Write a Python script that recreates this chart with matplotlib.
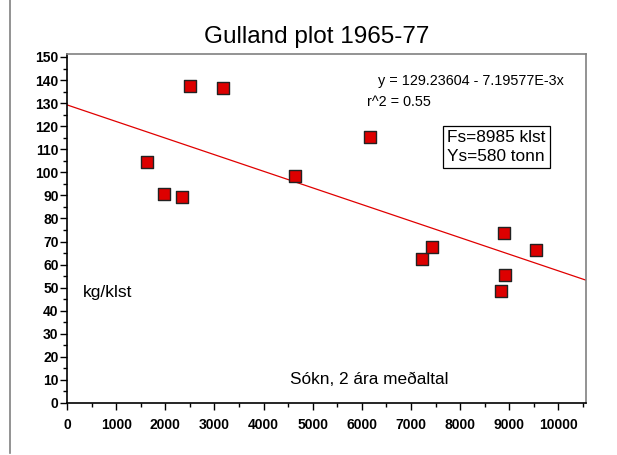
import numpy as np
import matplotlib
matplotlib.use("Agg")
import matplotlib.pyplot as plt
from matplotlib.ticker import MultipleLocator
from matplotlib.lines import Line2D

plt.rcParams['font.family'] = ['Liberation Sans', 'DejaVu Sans']

# effort (2 year mean) and catch per unit effort
sokn = [1620, 1970, 2340, 2500, 3180, 4630, 6160, 7220, 7420, 8840, 8900, 8920, 9540]
cpue = [104.5, 90.5, 89.5, 137.5, 136.5, 98.5, 115.5, 62.5, 67.5, 48.5, 73.5, 55.5, 66.5]

intercept = 129.23604
slope = -7.19577e-3
x_max = 10560
y_max = 151.3

fig = plt.figure(figsize=(6.17, 4.55), dpi=100)
ax = fig.add_axes([67 / 617, 1 - 403 / 455, (586 - 67) / 617, (403 - 54) / 455])

# left frame line of the page
fig.add_artist(Line2D([10 / 617, 10 / 617], [0.004, 1], color='#808080', lw=1.2,
                      transform=fig.transFigure))

xl = np.array([0, x_max])
ax.plot(xl, intercept + slope * xl, color='#e00000', lw=0.9, zorder=2)
ax.scatter(sokn, cpue, marker='s', s=72, facecolor='#dd0000', edgecolor='#222222',
           linewidth=1.0, zorder=3)

ax.set_xlim(0, x_max)
ax.set_ylim(0, y_max)
ax.xaxis.set_major_locator(MultipleLocator(1000))
ax.xaxis.set_minor_locator(MultipleLocator(500))
ax.yaxis.set_major_locator(MultipleLocator(10))
ax.yaxis.set_minor_locator(MultipleLocator(5))
ax.tick_params(which='major', direction='out', length=5, width=1, color='black',
               labelsize=10)
ax.tick_params(which='minor', direction='out', length=3, width=1, color='black')
ax.tick_params(axis='x', pad=6)
ax.tick_params(axis='y', pad=1)
for lab in ax.get_xticklabels() + ax.get_yticklabels():
    lab.set_fontweight('bold')

ax.spines['left'].set_color('black')
ax.spines['bottom'].set_color('black')
ax.spines['top'].set_color('#808080')
ax.spines['right'].set_color('#808080')
for s in ax.spines.values():
    s.set_linewidth(1.2)

fig.text(317 / 617, 1 - 37 / 455, 'Gulland plot 1965-77', ha='center', va='center',
         fontsize=17.5)
fig.text(378 / 617, 1 - 81 / 455, 'y = 129.23604 - 7.19577E-3x', ha='left',
         va='center', fontsize=10.4)
fig.text(367 / 617, 1 - 102 / 455, 'r^2 = 0.55', ha='left', va='center', fontsize=10.4)
fig.text(447 / 617, 1 - 147 / 455, 'Fs=8985 klst\nYs=580 tonn', ha='left', va='center',
         fontsize=12.4, linespacing=1.28,
         bbox=dict(boxstyle='square,pad=0.25', facecolor='white', edgecolor='black', lw=0.9))
fig.text(83 / 617, 1 - 292 / 455, 'kg/klst', ha='left', va='center', fontsize=12.5)
fig.text(290 / 617, 1 - 379 / 455, 'Sókn, 2 ára meðaltal', ha='left', va='center',
         fontsize=12.4)

fig.savefig('out.png', dpi=100)
